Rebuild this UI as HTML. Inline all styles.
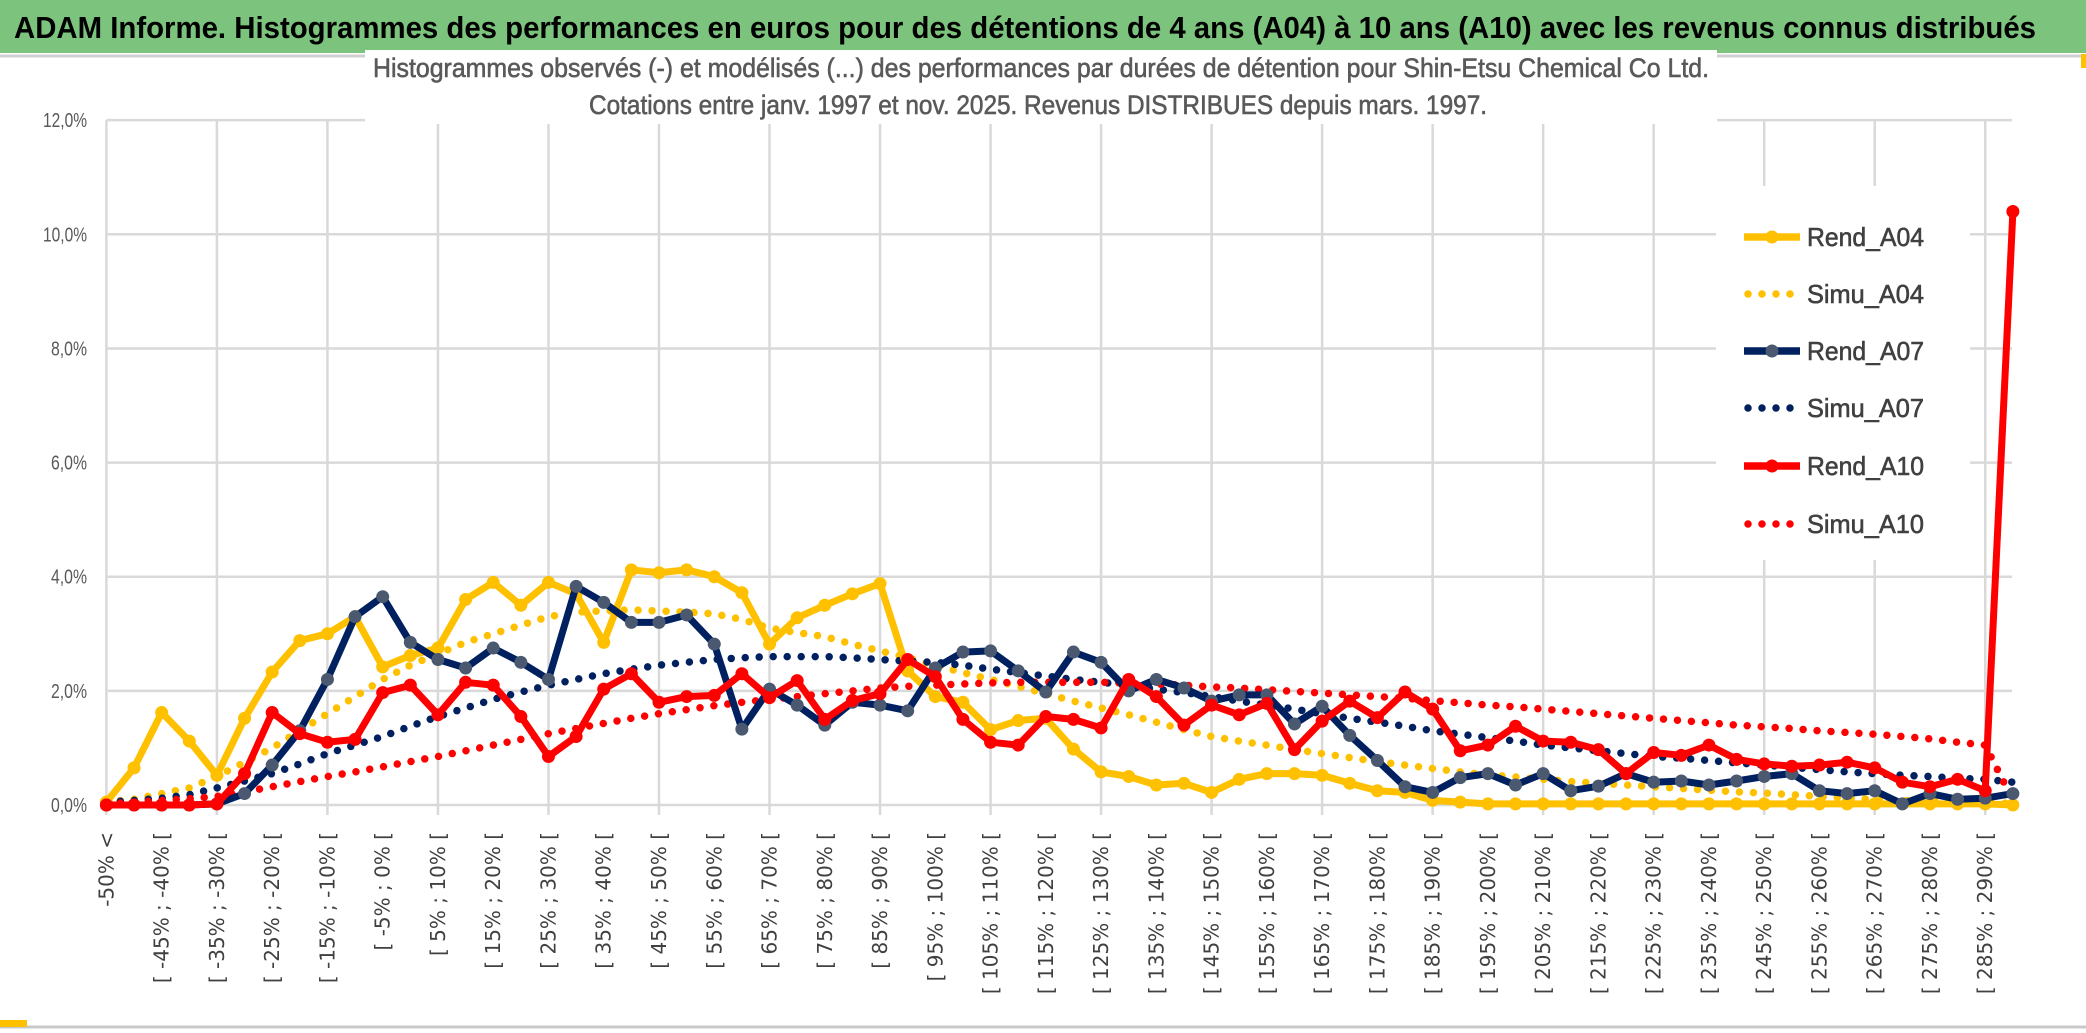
<!DOCTYPE html>
<html><head><meta charset="utf-8"><style>
html,body{margin:0;padding:0;background:#fff;}
svg{display:block;}
</style></head><body>
<svg id="chart" width="2086" height="1033" viewBox="0 0 2086 1033" xmlns="http://www.w3.org/2000/svg">
<rect x="0" y="0" width="2086" height="1033" fill="#fff"/>
<rect x="0" y="0" width="2086" height="53" fill="#7cc47d"/>
<text x="14" y="38" font-family="'Liberation Sans',sans-serif" font-weight="bold" font-size="31" fill="#000" textLength="2022" lengthAdjust="spacingAndGlyphs">ADAM Informe. Histogrammes des performances en euros pour des détentions de 4 ans (A04) à 10 ans (A10) avec les revenus connus distribués</text>
<line x1="0" y1="56" x2="2086" y2="56" stroke="#d0d0d0" stroke-width="3"/>
<line x1="0" y1="1027" x2="2086" y2="1027" stroke="#c8c8c8" stroke-width="3"/>
<rect x="0" y="1020" width="27" height="7" fill="#ffc000"/>
<rect x="2081" y="54" width="5" height="14" fill="#ffc000"/>
<g id="grid"></g>
<g id="ylabels"></g>
<g id="xlabels"></g>
<g id="series"></g>
<rect x="365" y="50" width="1352" height="74" fill="#fff"/>
<text x="1041" y="77" text-anchor="middle" font-family="'Liberation Sans',sans-serif" font-size="27" fill="#595959" stroke="#595959" stroke-width="0.6" textLength="1336" lengthAdjust="spacingAndGlyphs">Histogrammes observés (-) et modélisés (...) des performances par durées de détention pour Shin-Etsu Chemical Co Ltd.</text>
<text x="1038" y="114" text-anchor="middle" font-family="'Liberation Sans',sans-serif" font-size="27" fill="#595959" stroke="#595959" stroke-width="0.6" textLength="898" lengthAdjust="spacingAndGlyphs">Cotations entre janv. 1997 et nov. 2025. Revenus DISTRIBUES depuis mars. 1997.</text>
<g id="legend"></g>
</svg>
<script>
const categories = [];
categories.push("-50% <");
for (let k = 1; k < 70; k++) { const a = -55 + 5 * k; categories.push("[ " + a + "% ; " + (a + 5) + "% ["); }
const yTicks = [0, 2, 4, 6, 8, 10, 12];
const yTickLabels = ["0,0%", "2,0%", "4,0%", "6,0%", "8,0%", "10,0%", "12,0%"];
const rendA04 = [0.05,0.65,1.62,1.12,0.52,1.52,2.33,2.88,3.0,3.3,2.42,2.62,2.75,3.6,3.9,3.5,3.9,3.7,2.85,4.12,4.07,4.12,4.0,3.72,2.82,3.28,3.5,3.7,3.88,2.35,1.9,1.8,1.32,1.48,1.52,0.98,0.58,0.5,0.35,0.38,0.22,0.45,0.55,0.55,0.52,0.38,0.25,0.22,0.08,0.05,0.02,0.02,0.02,0.02,0.02,0.02,0.02,0.02,0.02,0.02,0.02,0.02,0.02,0.02,0.02,0.02,0.02,0.02,0.02,0.0];
const simuA04 = [0.05,0.1,0.2,0.3,0.5,0.75,1.0,1.3,1.6,1.9,2.2,2.45,2.65,2.85,3.0,3.15,3.3,3.38,3.4,3.42,3.4,3.38,3.35,3.25,3.1,3.02,2.95,2.82,2.7,2.58,2.45,2.32,2.2,2.08,1.95,1.82,1.7,1.58,1.45,1.32,1.2,1.12,1.05,0.97,0.9,0.83,0.76,0.7,0.64,0.58,0.53,0.49,0.45,0.41,0.38,0.35,0.32,0.29,0.26,0.23,0.21,0.18,0.15,0.12,0.1,0.08,0.06,0.05,0.04,0.03];
const rendA07 = [0,0,0,0,0.02,0.2,0.7,1.3,2.2,3.3,3.65,2.85,2.55,2.4,2.75,2.5,2.2,3.83,3.55,3.2,3.2,3.33,2.82,1.33,2.03,1.75,1.4,1.8,1.75,1.65,2.4,2.68,2.7,2.35,1.98,2.68,2.5,2.0,2.2,2.05,1.82,1.93,1.93,1.42,1.73,1.22,0.78,0.32,0.22,0.48,0.55,0.35,0.55,0.25,0.33,0.55,0.4,0.42,0.35,0.42,0.5,0.55,0.25,0.2,0.25,0.02,0.2,0.1,0.12,0.2];
const simuA07 = [0.05,0.08,0.12,0.18,0.3,0.42,0.55,0.72,0.9,1.05,1.2,1.38,1.55,1.7,1.85,1.98,2.1,2.2,2.3,2.38,2.45,2.5,2.55,2.58,2.6,2.6,2.6,2.58,2.55,2.52,2.5,2.45,2.38,2.32,2.26,2.2,2.15,2.1,2.03,1.97,1.9,1.82,1.75,1.68,1.6,1.52,1.45,1.38,1.3,1.24,1.18,1.12,1.05,1.0,0.95,0.9,0.85,0.82,0.78,0.74,0.7,0.66,0.62,0.58,0.55,0.52,0.5,0.47,0.45,0.4];
const rendA10 = [0,0,0,0,0.02,0.55,1.62,1.25,1.1,1.15,1.97,2.1,1.58,2.15,2.1,1.55,0.85,1.2,2.03,2.3,1.8,1.9,1.92,2.3,1.88,2.18,1.5,1.83,1.95,2.55,2.25,1.5,1.1,1.05,1.55,1.5,1.35,2.2,1.9,1.4,1.75,1.58,1.78,0.97,1.47,1.82,1.53,1.98,1.68,0.95,1.05,1.38,1.12,1.1,0.97,0.55,0.92,0.87,1.05,0.8,0.72,0.68,0.7,0.75,0.65,0.4,0.32,0.45,0.25,10.4];
const simuA10 = [0.02,0.05,0.08,0.11,0.15,0.23,0.32,0.41,0.5,0.58,0.67,0.76,0.85,0.95,1.05,1.15,1.25,1.34,1.43,1.52,1.6,1.67,1.74,1.8,1.85,1.9,1.95,2.0,2.05,2.08,2.1,2.12,2.14,2.15,2.15,2.15,2.15,2.14,2.12,2.1,2.07,2.05,2.02,1.99,1.96,1.93,1.9,1.87,1.83,1.79,1.75,1.72,1.68,1.64,1.6,1.56,1.52,1.48,1.44,1.4,1.37,1.34,1.3,1.27,1.24,1.2,1.16,1.1,1.05,0.08];

const NS = "http://www.w3.org/2000/svg";
const X0 = 106.4, XSTEP = 27.63, Y0 = 805, YPER = 57.07, XEND = 2012;
function xScale(i) { return X0 + i * XSTEP; }
function yScale(v) { return Y0 - v * YPER; }
function mk(tag, attrs, parent) { const e = document.createElementNS(NS, tag); for (const k in attrs) e.setAttribute(k, attrs[k]); parent.appendChild(e); return e; }

const grid = document.getElementById("grid");
yTicks.forEach((t) => {
  const l = mk("line", {x1: X0, x2: XEND, y1: yScale(t), y2: yScale(t), stroke: "#d9d9d9", "stroke-width": 2.5}, grid);
  
  
});
for (let i = 0; i < categories.length; i += 4) {
  const l = mk("line", {x1: xScale(i), x2: xScale(i), y1: yScale(12), y2: Y0 + 10, stroke: "#d9d9d9", "stroke-width": 2.5}, grid);
  
  
}
const yl = document.getElementById("ylabels");
yTicks.forEach((t, i) => {
  const tx = mk("text", {x: 87, y: yScale(t) + 7, "text-anchor": "end", "font-family": "'Liberation Sans',sans-serif", "font-size": 20, fill: "#595959", textLength: yTickLabels[i].length > 4 ? 44 : 36, lengthAdjust: "spacingAndGlyphs"}, yl);
  tx.textContent = yTickLabels[i];
  
  
});
const xl = document.getElementById("xlabels");
categories.forEach((c, i) => {
  if (i % 2 !== 0) return;
  const x = xScale(i) + 7, y = 832;
  const tx = mk("text", {x: x, y: y, transform: "rotate(-90 " + x + " " + y + ")", "text-anchor": "end", "font-family": "'DejaVu Sans',sans-serif", "font-size": 20, fill: "#404040"}, xl);
  tx.textContent = c;
  
  
});

const seriesDefs = [
  {name: "Rend_A04", data: rendA04, color: "#ffc000", marker: "#ffc000", dotted: false},
  {name: "Simu_A04", data: simuA04, color: "#ffc000", dotted: true},
  {name: "Rend_A07", data: rendA07, color: "#002060", marker: "#4a5870", dotted: false},
  {name: "Simu_A07", data: simuA07, color: "#002060", dotted: true},
  {name: "Rend_A10", data: rendA10, color: "#ff0000", marker: "#ff0000", dotted: false},
  {name: "Simu_A10", data: simuA10, color: "#ff0000", dotted: true}
];
const order = [1, 3, 5, 0, 2, 4];
const sg = document.getElementById("series");
order.forEach((si) => {
  const s = seriesDefs[si];
  const g = mk("g", {}, sg);
  
  
  const pts = s.data.map((v, i) => xScale(i).toFixed(1) + "," + yScale(v).toFixed(1)).join(" ");
  const attrs = {points: pts, fill: "none", stroke: s.color, "stroke-linejoin": "round"};
  if (s.dotted) { attrs["stroke-width"] = 7.5; attrs["stroke-dasharray"] = "0 14"; attrs["stroke-linecap"] = "round"; }
  else { attrs["stroke-width"] = 7; }
  const pl = mk("polyline", attrs, g);
  
  
  if (!s.dotted) {
    s.data.forEach((v, i) => {
      const c = mk("circle", {cx: xScale(i), cy: yScale(v), r: 6.5, fill: s.marker}, g);
      
      
    });
  }
});

const lg = document.getElementById("legend");
const lbg = mk("rect", {x: 1716, y: 186, width: 254, height: 374, fill: "#fff"}, lg);


const legY = [237, 294, 351, 408, 466, 524];
seriesDefs.forEach((s, i) => {
  const g = mk("g", {}, lg);
  
  
  const y = legY[i];
  const la = {x1: 1744, x2: 1800, y1: y, y2: y, stroke: s.color};
  if (s.dotted) { la["stroke-width"] = 7.5; la["stroke-dasharray"] = "0 14"; la["stroke-linecap"] = "round"; la.x1 = 1748; }
  else { la["stroke-width"] = 7.5; }
  const l = mk("line", la, g);
  
  
  if (!s.dotted) {
    const c = mk("circle", {cx: 1772, cy: y, r: 6.5, fill: s.marker}, g);
    
    
  }
  const t = mk("text", {x: 1807, y: y + 9, "font-family": "'Liberation Sans',sans-serif", "font-size": 26, fill: "#404040", stroke: "#404040", "stroke-width": 0.6, textLength: 117, lengthAdjust: "spacingAndGlyphs"}, g);
  t.textContent = s.name;
  
  
});
</script>
</body></html>
